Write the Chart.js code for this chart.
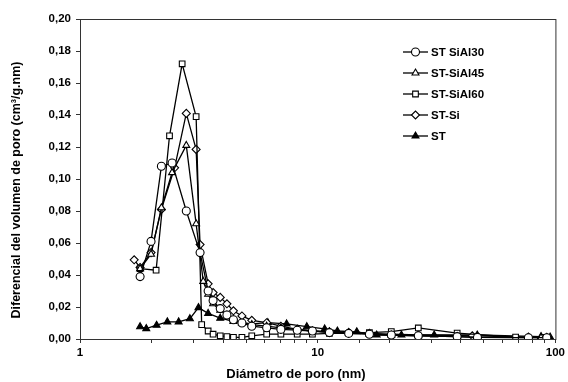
<!DOCTYPE html>
<html>
<head>
<meta charset="utf-8">
<script src="https://cdn.jsdelivr.net/npm/chart.js@4.4.0/dist/chart.umd.min.js"></script>
<style>
  html, body { margin: 0; padding: 0; background: #fff; }
  #wrap { width: 568px; height: 382px; }
</style>
</head>
<body>
<div id="wrap"><canvas id="chart"></canvas></div>
<script>
// pore diameter (nm) and dV/dD (cm3/g.nm) per sample
const xSiAl30 = [1.79, 1.99, 2.20, 2.44, 2.80, 3.20, 3.46, 3.63, 3.89, 4.15, 4.42, 4.8, 5.28, 6.1, 7.0, 8.2, 9.5, 11.2, 13.5, 16.5, 20.4, 26.5, 38.6, 47, 77, 92];
const ySiAl30 = [0.039, 0.061, 0.108, 0.110, 0.080, 0.054, 0.030, 0.024, 0.019, 0.015, 0.012, 0.010, 0.008, 0.007, 0.006, 0.0055, 0.005, 0.004, 0.0035, 0.003, 0.0025, 0.002, 0.0015, 0.001, 0.0008, 0.0008];

const xSiAl45 = [1.79, 1.99, 2.20, 2.44, 2.80, 3.08, 3.30, 3.46, 3.63, 3.89, 4.15, 4.42, 4.8, 5.28, 6.1, 7.0, 8.2, 9.5, 11.2, 13.5, 16.5, 20.4, 26.5, 38.6, 47, 87];
const ySiAl45 = [0.044, 0.053, 0.082, 0.104, 0.121, 0.072, 0.036, 0.028, 0.022, 0.018, 0.015, 0.012, 0.010, 0.009, 0.008, 0.007, 0.006, 0.005, 0.0045, 0.004, 0.003, 0.0025, 0.002, 0.0015, 0.001, 0.0008];

const xSiAl60 = [1.79, 2.09, 2.38, 2.69, 3.08, 3.25, 3.46, 3.63, 3.89, 4.15, 4.42, 4.8, 5.28, 6.1, 7.0, 8.2, 9.5, 11.2, 13.5, 16.5, 20.4, 26.5, 38.6, 68, 90];
const ySiAl60 = [0.044, 0.043, 0.127, 0.172, 0.139, 0.009, 0.005, 0.003, 0.002, 0.0015, 0.001, 0.001, 0.002, 0.003, 0.003, 0.003, 0.003, 0.0035, 0.0035, 0.004, 0.0046, 0.0069, 0.0037, 0.0012, 0.001];

const xSi = [1.69, 1.79, 1.99, 2.20, 2.50, 2.80, 3.08, 3.20, 3.46, 3.63, 3.89, 4.15, 4.42, 4.8, 5.28, 6.1, 7.0, 8.2, 9.5, 11.2, 13.5, 16.5, 20.4, 26.5, 44.7, 77, 92];
const ySi = [0.0495, 0.0447, 0.054, 0.081, 0.107, 0.141, 0.1185, 0.059, 0.0345, 0.029, 0.026, 0.022, 0.0176, 0.0144, 0.0117, 0.0102, 0.008, 0.006, 0.005, 0.0045, 0.004, 0.0035, 0.003, 0.0025, 0.002, 0.0012, 0.001];

const xST = [1.79, 1.90, 2.10, 2.33, 2.60, 2.90, 3.15, 3.46, 3.89, 4.42, 5.28, 6.17, 7.4, 9.0, 10.7, 12.1, 14.6, 17.7, 22.5, 30.9, 46.9, 87, 95];
const yST = [0.0077, 0.0065, 0.0086, 0.0107, 0.0107, 0.0127, 0.0196, 0.016, 0.013, 0.011, 0.0095, 0.0102, 0.0094, 0.0077, 0.0063, 0.005, 0.0045, 0.0025, 0.0025, 0.0025, 0.0025, 0.0015, 0.0012];

const seriesNames = ['ST SiAl30', 'ST-SiAl45', 'ST-SiAl60', 'ST-Si', 'ST'];
const yTicks = [0, 0.02, 0.04, 0.06, 0.08, 0.10, 0.12, 0.14, 0.16, 0.18, 0.20];
const xLabelled = [1, 10, 100];
const xTitle = 'Diámetro de poro (nm)';
const yTitle = 'Diferencial del volumen de poro (cm³/g.nm)';

const FONT = '"Liberation Sans", Arial, sans-serif';
const toPoints = (xs, ys) => xs.map((x, i) => ({ x: x, y: ys[i] }));

function series(label, xs, ys, style, filled) {
    return {
        label: label,
        data: toPoints(xs, ys),
        borderColor: '#000',
        borderWidth: 1.3,
        pointStyle: style,
        pointRadius: 4,
        pointBorderWidth: 1.1,
        pointBorderColor: '#000',
        pointBackgroundColor: filled ? '#000' : '#fff',
        tension: 0
    };
}

// frame around the plot area + axis titles (placed like the original)
const frame = {
    id: 'frame',
    afterDraw(chart) {
        const a = chart.chartArea, c = chart.ctx;
        c.save();
        c.strokeStyle = '#333';
        c.lineWidth = 1;
        c.strokeRect(a.left + 0.5, a.top + 0.5, a.right - a.left, a.bottom - a.top);

        c.fillStyle = '#000';
        c.textAlign = 'center';
        c.textBaseline = 'middle';
        c.font = 'bold 13px ' + FONT;
        c.fillText(xTitle, 296, 374);

        c.translate(17, 190);
        c.rotate(-Math.PI / 2);
        c.font = 'bold 12.5px ' + FONT;
        c.fillText(yTitle, 0, 0);
        c.restore();
    }
};

// legend inside the plot, top right
const legendBox = {
    id: 'legendBox',
    afterDraw(chart) {
        const c = chart.ctx;
        c.save();
        chart.data.datasets.forEach((ds, i) => {
            const y = 52 + i * 21;
            c.strokeStyle = '#000';
            c.lineWidth = 1.3;
            c.beginPath();
            c.moveTo(403, y);
            c.lineTo(428, y);
            c.stroke();
            c.fillStyle = ds.pointBackgroundColor;
            c.lineWidth = 1.1;
            Chart.helpers.drawPoint(c, { pointStyle: ds.pointStyle, radius: 4, borderWidth: 1.1 }, 415.5, y);
            c.fillStyle = '#000';
            c.font = 'bold 11.5px ' + FONT;
            c.textBaseline = 'middle';
            c.fillText(ds.label, 431, y + 1);
        });
        c.restore();
    }
};

new Chart(document.getElementById('chart'), {
    type: 'line',
    data: {
        datasets: [
            series(seriesNames[0], xSiAl30, ySiAl30, 'circle', false),
            series(seriesNames[1], xSiAl45, ySiAl45, 'triangle', false),
            series(seriesNames[2], xSiAl60, ySiAl60, 'rect', false),
            series(seriesNames[3], xSi, ySi, 'rectRot', false),
            series(seriesNames[4], xST, yST, 'triangle', true)
        ]
    },
    plugins: [frame, legendBox],
    options: {
        responsive: true,
        maintainAspectRatio: false,
        animation: false,
        layout: { padding: { top: 19, right: 11, left: 0, bottom: 0 } },
        plugins: {
            legend: { display: false },
            tooltip: { enabled: false }
        },
        scales: {
            x: {
                type: 'logarithmic',
                min: 1,
                max: 100,
                border: { color: '#333', width: 1 },
                grid: { drawOnChartArea: false, drawTicks: true, tickLength: 4, color: '#333' },
                ticks: {
                    color: '#000',
                    font: { family: FONT, size: 11.5, weight: 'bold' },
                    autoSkip: false,
                    maxRotation: 0,
                    padding: 3,
                    callback: v => (xLabelled.includes(v) ? String(v) : '')
                },
                afterFit: s => { s.height = 43; }
            },
            y: {
                min: 0,
                max: 0.2,
                border: { color: '#333', width: 1 },
                grid: { drawOnChartArea: false, drawTicks: true, tickLength: 4, color: '#333' },
                afterBuildTicks: s => { s.ticks = yTicks.map(v => ({ value: v })); },
                ticks: {
                    color: '#000',
                    font: { family: FONT, size: 11.5, weight: 'bold' },
                    padding: 5,
                    callback: v => v.toFixed(2).replace('.', ',')
                },
                afterFit: s => { s.width = 80; }
            }
        }
    }
});
</script>
</body>
</html>
